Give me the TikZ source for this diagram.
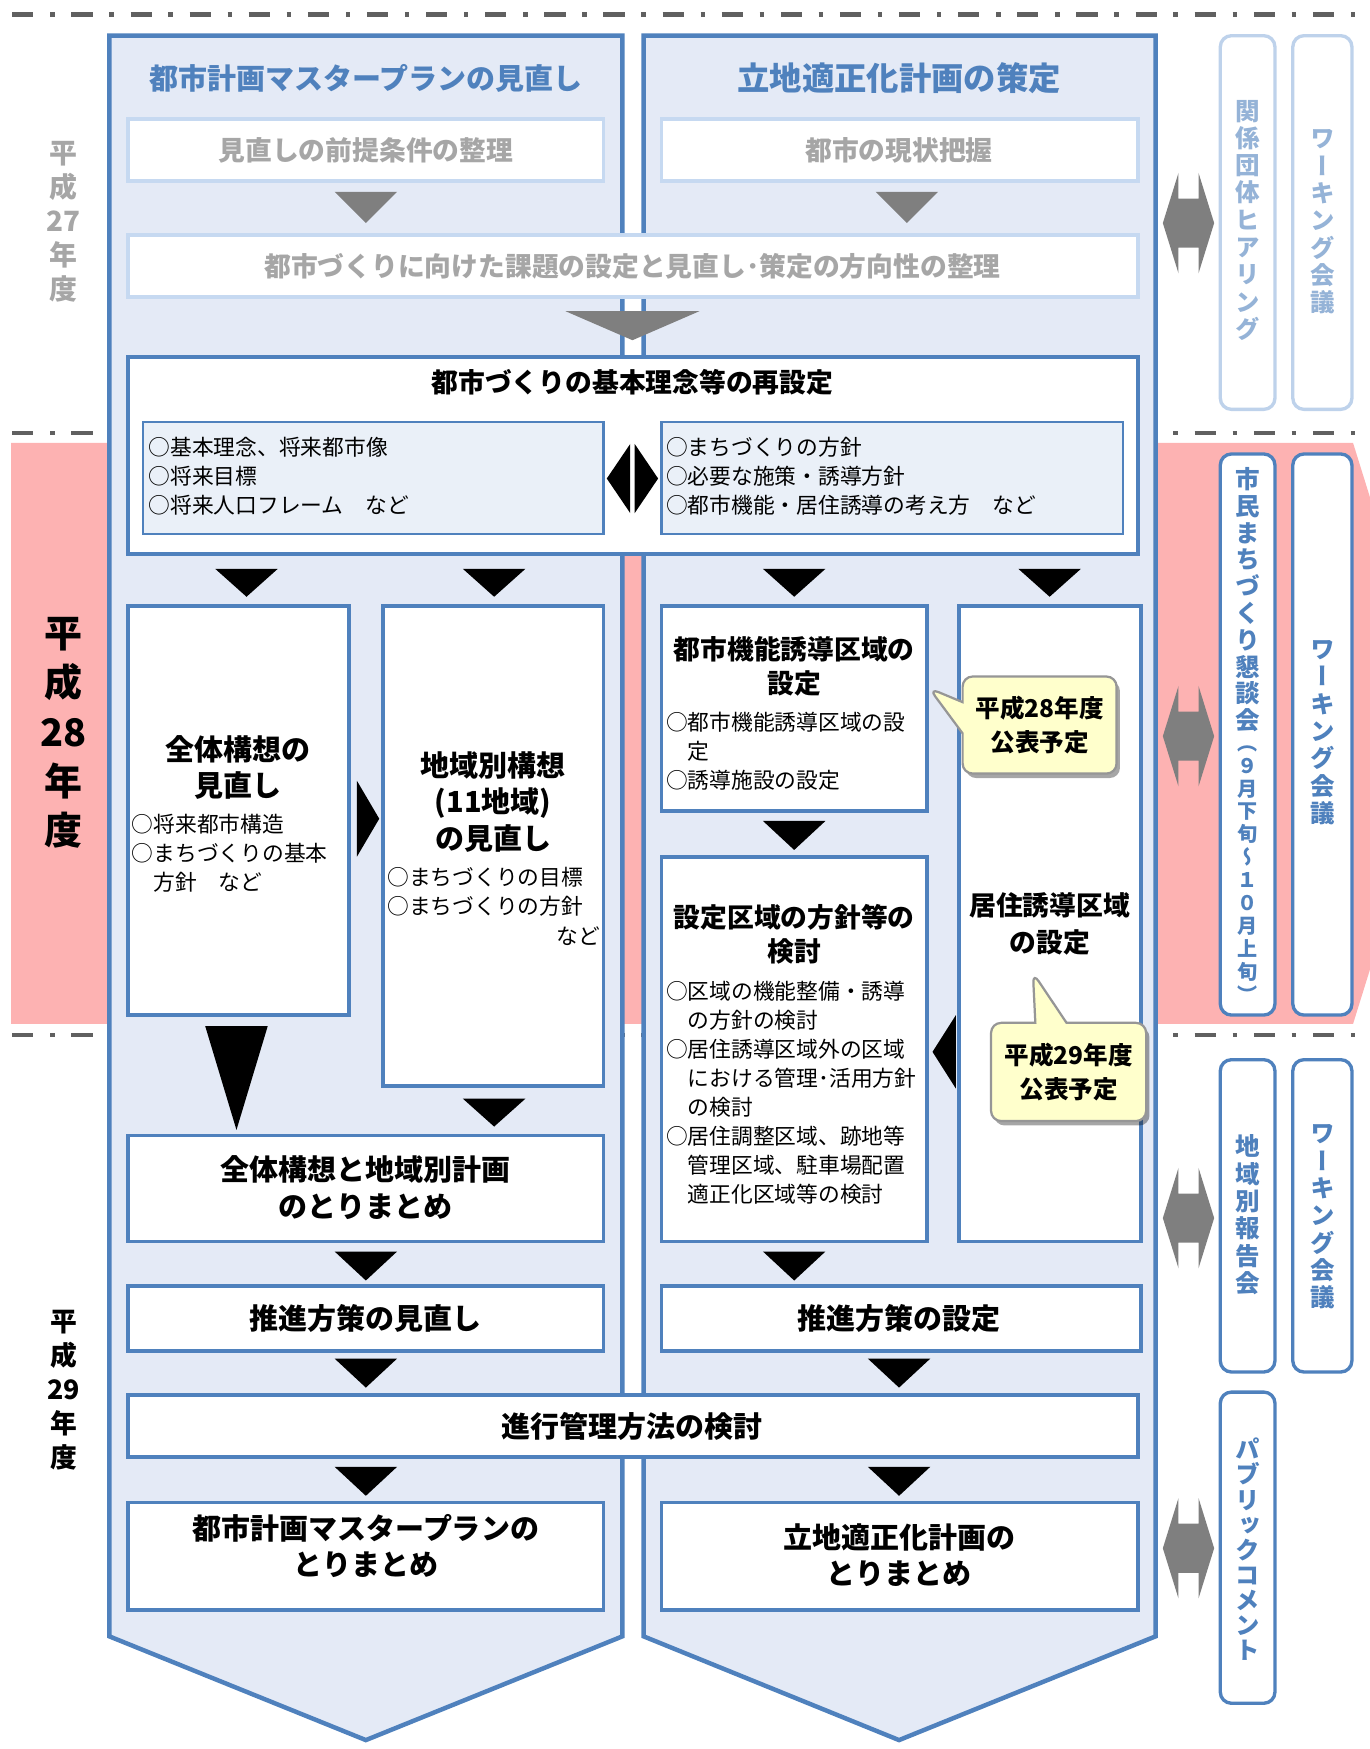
\documentclass[tikz,border=0pt]{standalone}
\usepackage{fontspec}
\setmainfont{Noto Sans CJK JP}
\newfontfamily\vfont{Noto Sans CJK JP}[RawFeature=+vert]
\usetikzlibrary{shapes.callouts,shadows,fit,calc}
\definecolor{pblue}{RGB}{79,129,189}
\definecolor{pfill}{RGB}{228,234,246}
\definecolor{sfill}{RGB}{234,240,248}
\definecolor{lborder}{RGB}{198,217,241}
\definecolor{gtext}{RGB}{166,166,166}
\definecolor{gtri}{RGB}{127,127,127}
\definecolor{pinkband}{RGB}{253,178,178}
\definecolor{dline}{RGB}{96,96,96}
\definecolor{ltext}{RGB}{149,179,215}
\definecolor{lvborder}{RGB}{190,210,235}
\definecolor{cfill}{RGB}{255,255,204}
\definecolor{cborder}{RGB}{150,150,150}
\newcommand\fs[2]{\fontsize{#1}{#2}\selectfont}
% down triangle: cx, ytop, width, height, colour
\newcommand\dtri[5]{\fill[#5] ({#1-#3/2},#2) -- ({#1+#3/2},#2) -- (#1,{#2+#4}) -- cycle;}
\tikzset{
  panel/.style={fill=pfill, draw=pblue, line width=4pt, line join=miter},
  wbox/.style={draw=pblue, fill=white, line width=3.5pt, inner sep=0pt},
  gbox/.style={draw=lborder, fill=white, line width=3.5pt, inner sep=0pt},
  sbox/.style={draw=pblue, fill=sfill, line width=2pt, inner sep=0pt},
  vbox/.style={draw=pblue, fill=white, line width=3pt, rounded corners=10pt, inner sep=0pt},
  lvbox/.style={vbox, draw=lvborder},
  ptitle/.style={text=pblue, inner sep=0pt},
  gtitle/.style={text=gtext, font=\fs{24}{28}\bfseries, inner sep=0pt},
  ttl/.style={font=\fs{26}{32}\bfseries, align=center, inner sep=0pt},
  sttl/.style={font=\fs{24}{31}\bfseries, align=center, inner sep=0pt},
  bul/.style={font=\fs{19.5}{26}, align=left, anchor=north west, inner sep=0pt},
  vt/.style={font=\vfont\fs{22}{24.5}\bfseries, align=center, inner sep=0pt, text=pblue},
  year/.style={align=center, inner sep=0pt, font=\bfseries},
  darr/.style={fill=gtri},
  callbox/.style={rectangle callout, fill=cfill, draw=cborder, line width=2pt,
    rounded corners=9pt, callout pointer width=28pt, inner sep=0pt, align=center,
    font=\fs{22}{31}\bfseries,
    drop shadow={shadow xshift=3pt, shadow yshift=-4pt, opacity=0.35, fill=black}}
}
\begin{document}
\begin{tikzpicture}[x=1pt,y=-1pt]
\useasboundingbox (0,0) rectangle (1228,1568);
% background bands and dividers
\begin{scope}
\clip (0,0) rectangle (1228,1568);
\fill[pinkband] (10,397) -- (1213,397) -- (1294,657.5) -- (1213,918) -- (10,918) -- cycle;
\end{scope}
\foreach \yy in {13,388,928}
  \draw[dline, line width=4pt, dash pattern=on 19pt off 15pt on 4pt off 15pt] (11,\yy) -- (1228,\yy);

% year labels
\node[year, text=gtext, font=\fs{25}{30.5}\bfseries] (y27) at (57,199) {平\\成\\27\\年\\度};
\node[year, font=\fs{34}{44}\bfseries] (y28) at (57,657) {平\\成\\28\\年\\度};
\node[year, font=\fs{24}{30.5}\bfseries] (y29) at (57,1246) {平\\成\\29\\年\\度};

% panels
\draw[panel] (98,32) -- (558,32) -- (558,1467) -- (328,1560) -- (98,1467) -- cycle;
\draw[panel] (577,32) -- (1036,32) -- (1036,1467) -- (806,1560) -- (577,1467) -- cycle;
\node[ptitle, font=\fs{26}{30}\bfseries] (t1) at (328,70) {都市計画マスタープランの見直し};
\node[ptitle, font=\fs{29}{33}\bfseries] (t2) at (806,70) {立地適正化計画の策定};

% grey stage
\node[gbox, fit={(115,107)(541,162)}] (g1) {};
\node[gtitle] (g1t) at (328,135) {見直しの前提条件の整理};
\node[gbox, fit={(593,107)(1020,162)}] (g2) {};
\node[gtitle] (g2t) at (806,135) {都市の現状把握};
\dtri{328}{172}{56}{28}{gtri}
\dtri{813}{172}{56}{28}{gtri}
\node[gbox, fit={(115,211)(1020,266)}] (g3) {};
\node[gtitle] (g3t) at (567,239) {都市づくりに向けた課題の設定と見直し･策定の方向性の整理};
\dtri{567}{279}{120}{26}{gtri}

% basic concept box
\node[wbox, fit={(115,320)(1020,497)}] (b0) {};
\node[sttl] (b0t) at (567,343) {都市づくりの基本理念等の再設定};
\node[sbox, fit={(128,378)(541,479)}] (s1) {};
\node[sbox, fit={(593,378)(1007,479)}] (s2) {};
\node[bul] (s1t) at (133,392) {○基本理念、将来都市像\\○将来目標\\○将来人口フレーム　など};
\node[bul] (s2t) at (597,392) {○まちづくりの方針\\○必要な施策・誘導方針\\○都市機能・居住誘導の考え方　など};
\fill (565,398) -- (565,460) -- (544,429) -- cycle;
\fill (569,398) -- (569,460) -- (590,429) -- cycle;

\dtri{221}{510}{56}{25}{black}
\dtri{443}{510}{56}{25}{black}
\dtri{712}{510}{56}{25}{black}
\dtri{941}{510}{56}{25}{black}

% left column
\node[wbox, fit={(115,543)(313,910)}] (a1) {};
\node[ttl] (a1t) at (213,688) {全体構想の\\見直し};
\node[bul] (a1b) at (118,730) {○将来都市構造\\○まちづくりの基本\\　方針　など};
\fill (320,700) -- (320,768) -- (340,734) -- cycle;
\node[wbox, fit={(343,543)(541,974)}] (a2) {};
\node[ttl, font=\fs{26}{33}\bfseries] (a2t) at (442,719) {地域別構想\\(11地域)\\の見直し};
\node[bul] (a2b) at (347,777) {○まちづくりの目標\\○まちづくりの方針};
\node[inner sep=0pt, font=\fs{19.5}{26}, anchor=east] (a2n) at (538,839) {など};
\fill (184,920) -- (240,920) -- (212,1013) -- cycle;
\dtri{443}{985}{56}{25}{black}
\node[wbox, fit={(115,1018)(541,1113)}] (a3) {};
\node[ttl, font=\fs{26}{33}\bfseries] (a3t) at (328,1065) {全体構想と地域別計画\\のとりまとめ};
\dtri{328}{1122}{56}{26}{black}
\node[wbox, fit={(115,1153)(541,1211)}] (a4) {};
\node[ttl] (a4t) at (328,1182) {推進方策の見直し};
\dtri{328}{1218}{56}{26}{black}
\node[wbox, fit={(115,1251)(1020,1306)}] (c0) {};
\node[ttl] (c0t) at (567,1279) {進行管理方法の検討};
\dtri{328}{1315}{56}{26}{black}
\dtri{806}{1315}{56}{26}{black}
\node[wbox, fit={(115,1347)(541,1443)}] (a5) {};
\node[ttl] (a5t) at (328,1386) {都市計画マスタープランの\\とりまとめ};

% right column
\node[wbox, fit={(593,543)(831,727)}] (r1) {};
\node[sttl] (r1t) at (712,597.5) {都市機能誘導区域の\\設定};
\node[bul] (r1b) at (597,638) {○都市機能誘導区域の設\\　定\\○誘導施設の設定};
\dtri{712}{736}{56}{26}{black}
\node[wbox, fit={(593,768)(831,1113)}] (r2) {};
\node[sttl] (r2t) at (712,837.5) {設定区域の方針等の\\検討};
\node[bul] (r2b) at (597,879) {○区域の機能整備・誘導\\　の方針の検討\\○居住誘導区域外の区域\\　における管理･活用方針\\　の検討\\○居住調整区域、跡地等\\　管理区域、駐車場配置\\　適正化区域等の検討};
\node[wbox, fit={(860,543)(1023,1113)}] (r3) {};
\node[sttl, font=\fs{24}{33}\bfseries] (r3t) at (941,828.5) {居住誘導区域\\の設定};
\fill (857,910) -- (857,976) -- (836,943) -- cycle;
\dtri{712}{1122}{56}{26}{black}
\node[wbox, fit={(593,1153)(1023,1211)}] (r4) {};
\node[ttl] (r4t) at (806,1182) {推進方策の設定};
\dtri{806}{1218}{56}{26}{black}
\node[wbox, fit={(593,1347)(1020,1443)}] (r5) {};
\node[ttl] (r5t) at (806,1394) {立地適正化計画の\\とりまとめ};

% callouts
\node[callbox, callout absolute pointer={(833,617)}, minimum width=138pt, minimum height=87pt] (c1) at (932,650) {平成28年度\\公表予定};
\node[callbox, callout absolute pointer={(926,872)}, minimum width=139pt, minimum height=88pt] (c2) at (958,961) {平成29年度\\公表予定};

% double arrows
\foreach \cy [count=\i] in {200,660,1092,1388}
  \coordinate (da\i) at (1065.5,\cy);
\foreach \i in {1,2,3,4}
  \fill[darr, shift={(da\i)}] (-23,0) -- (-9,-45) -- (-9,-22) -- (9,-22) -- (9,-45) -- (23,0)
     -- (9,45) -- (9,22) -- (-9,22) -- (-9,45) -- cycle;

% side boxes
\node[lvbox, fit={(1094,32)(1143,367)}] (v1) {};
\node[vt, text=ltext] (v1t) at (1118.5,197.5) {関\\係\\団\\体\\ヒ\\ア\\リ\\ン\\グ};
\node[lvbox, fit={(1159,32)(1212,367)}] (v2) {};
\node[vt, text=ltext] (v2t) at (1185.5,199) {ワ\\ー\\キ\\ン\\グ\\会\\議};
\node[vbox, fit={(1094,407)(1143,910)}] (v3) {};
\node[vt, anchor=north, font=\vfont\fs{22}{24}\bfseries] (v3t) at (1118.5,419) {市\\民\\ま\\ち\\づ\\く\\り\\懇\\談\\会};
\node[vt, anchor=north, font=\vfont\fs{18}{20.6}\bfseries] (v3p) at (1118.5,668) {（\\９\\月\\下\\旬\\～\\１\\０\\月\\上\\旬\\）};
\node[vbox, fit={(1159,407)(1212,910)}] (v4) {};
\node[vt] (v4t) at (1185.5,657) {ワ\\ー\\キ\\ン\\グ\\会\\議};
\node[vbox, fit={(1094,950)(1143,1230)}] (v5) {};
\node[vt] (v5t) at (1118.5,1089) {地\\域\\別\\報\\告\\会};
\node[vbox, fit={(1159,950)(1212,1230)}] (v6) {};
\node[vt] (v6t) at (1185.5,1091) {ワ\\ー\\キ\\ン\\グ\\会\\議};
\node[vbox, fit={(1094,1248)(1143,1527)}] (v7) {};
\node[vt, font=\vfont\fs{22}{22.5}\bfseries] (v7t) at (1118.5,1389) {パ\\ブ\\リ\\ッ\\ク\\コ\\メ\\ン\\ト};
\end{tikzpicture}
\end{document}
